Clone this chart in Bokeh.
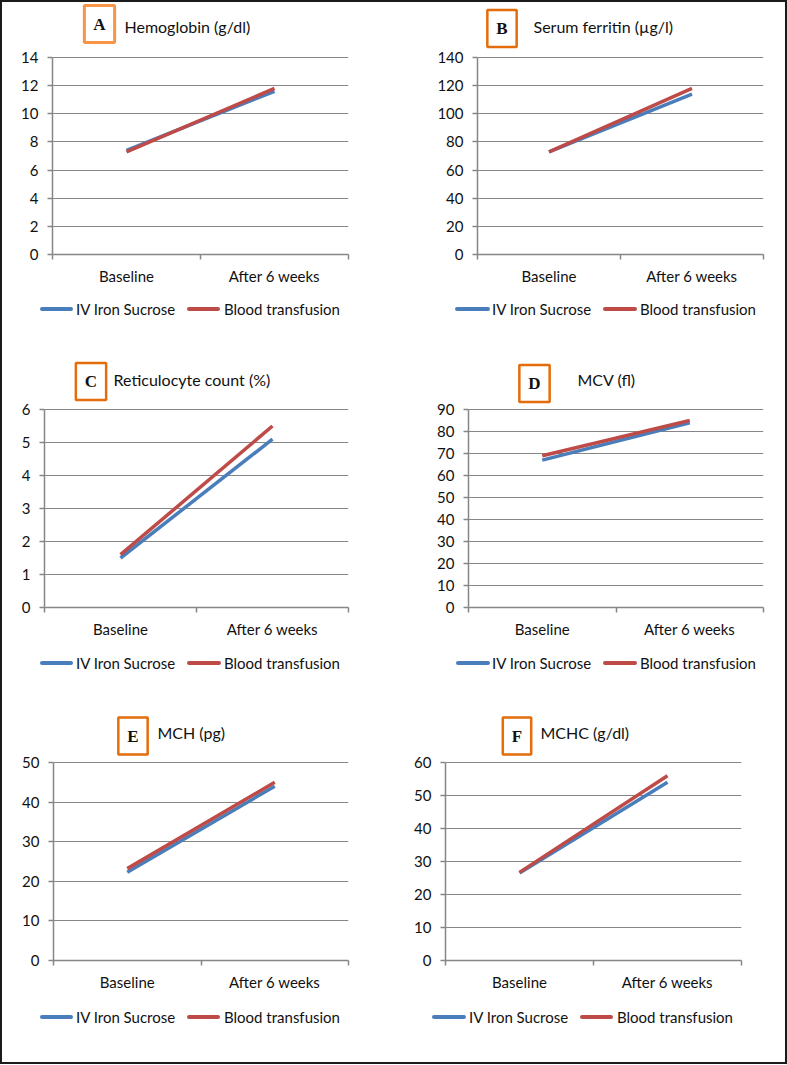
from bokeh.plotting import figure
from bokeh.models import Range1d, FixedTicker, Label, Div
from bokeh.layouts import column, row
from bokeh.embed import file_html
from bokeh.resources import INLINE

# ---------------- data ----------------
categories = ["Baseline", "After 6 weeks"]
series_names = ["IV Iron Sucrose", "Blood transfusion"]

hb_iv = [7.4, 11.6]
hb_bt = [7.3, 11.8]
fer_iv = [73, 114]
fer_bt = [73, 118]
ret_iv = [1.5, 5.1]
ret_bt = [1.6, 5.5]
mcv_iv = [67, 84]
mcv_bt = [69, 85]
mch_iv = [22.3, 44]
mch_bt = [23.2, 45]
mchc_iv = [26.5, 54]
mchc_bt = [26.7, 56]

letters = ["A", "B", "C", "D", "E", "F"]
titles = ["Hemoglobin (g/dl)", "Serum ferritin (\u00b5g/l)", "Reticulocyte count (%)",
          "MCV (fl)", "MCH (pg)", "MCHC (g/dl)"]
y_max = [14, 140, 6, 90, 50, 60]
y_step = [2, 20, 1, 10, 10, 10]
iv_series = [hb_iv, fer_iv, ret_iv, mcv_iv, mch_iv, mchc_iv]
bt_series = [hb_bt, fer_bt, ret_bt, mcv_bt, mch_bt, mchc_bt]

# ---------------- layout (page pixel geometry) ----------------
col_x = [2, 392]
col_w = [390, 393]
row_y = [2, 330, 690]
row_h = [328, 360, 372]

# axis-area page coords (left, right, top(=ymax), bottom(=0))
frames = [(52, 348, 57, 254), (477, 763, 57, 254),
          (44, 348, 409, 607), (468, 763, 409, 607),
          (53, 348, 762, 960), (445, 741, 762, 960)]
boxes = [(99, 23.5), (501.5, 28), (90.5, 381), (534, 383), (132.5, 735.5), (516.5, 735.5)]
box_colors = ["#F79646", "#E46C0A", "#E46C0A", "#E46C0A", "#E46C0A", "#E46C0A"]
box_widths = [3, 2.5, 2.5, 2.5, 2.5, 2.5]
title_pos = [(124, 26), (533, 26), (113, 379), (577, 379), (157, 732), (540, 732)]
# legend: (swatch1 x0, swatch1 x1, text1 x, swatch2 x0, swatch2 x1, text2 x, centre y)
legend_pos = [(40, 73, 76, 187, 220, 224, 309), (455, 490, 492, 603, 637, 640, 309),
              (40, 73, 76, 187, 221, 224, 663), (456, 490, 492, 603, 637, 640, 663),
              (40, 73, 76, 187, 220, 224, 1017), (432, 466, 469, 580, 613, 617, 1017)]

BLUE = "#4A7EBB"
RED = "#BE4B48"
GRAY = "#868686"
FONT = "Lato"
AXIS_SPACE = 40


def legend_html(i, ox, top, w, hgt):
    s1a, s1b, t1, s2a, s2b, t2, cy = legend_pos[i]
    cy_local = cy - top
    parts = [f'<div style="position:relative;width:{w}px;height:{hgt}px;margin:0;'
             f'font-family:Lato;font-size:15px;color:#111111;">']
    for (a, b, t, col, name) in [(s1a, s1b, t1, BLUE, series_names[0]),
                                 (s2a, s2b, t2, RED, series_names[1])]:
        parts.append(f'<span style="position:absolute;left:{a - ox}px;top:{cy_local - 2}px;'
                     f'width:{b - a}px;height:4px;background:{col};border-radius:2px;"></span>')
        parts.append(f'<span style="position:absolute;left:{t - ox}px;top:{cy_local - 10}px;'
                     f'line-height:20px;white-space:nowrap;">{name}</span>')
    parts.append('</div>')
    return "".join(parts)


panels = []
for i in range(6):
    r, c = divmod(i, 2)
    ox, oy, w, h = col_x[c], row_y[r], col_w[c], row_h[r]
    fl, fr, ft, fb = frames[i]
    ymax = y_max[i]
    top_page = oy + 1
    main_h = fb + AXIS_SPACE - oy
    leg_h = h - main_h
    bl, br, bt, bb = fl - ox, (ox + w) - fr, top_page - oy, (oy + main_h) - fb
    fw = fr - fl
    y_end = ymax * (fb - top_page) / (fb - ft)

    p = figure(width=w, height=main_h, output_backend="svg", toolbar_location=None,
               x_range=Range1d(0, len(categories)), y_range=Range1d(0, y_end),
               min_border_left=bl, min_border_right=br, min_border_top=bt,
               min_border_bottom=bb, tools="")
    p.outline_line_color = None
    p.background_fill_color = "white"
    p.border_fill_color = "white"

    xs = [k + 0.5 for k in range(len(categories))]
    p.line(xs, iv_series[i], line_color=BLUE, line_width=3.5)
    p.line(xs, bt_series[i], line_color=RED, line_width=3.5)

    # x axis
    xa = p.xaxis[0]
    xa.ticker = FixedTicker(ticks=xs, minor_ticks=list(range(len(categories) + 1)))
    xa.major_label_overrides = {x: cat for x, cat in zip(xs, categories)}
    xa.major_tick_line_color = None
    xa.major_tick_out = 0
    xa.major_tick_in = 0
    xa.minor_tick_line_color = GRAY
    xa.minor_tick_line_width = 1.5
    xa.minor_tick_out = 5
    xa.minor_tick_in = 0
    xa.axis_line_color = GRAY
    xa.axis_line_width = 1.5
    xa.major_label_standoff = 7
    xa.major_label_text_font = FONT
    xa.major_label_text_font_size = "15px"
    xa.major_label_text_color = "#111111"

    # y axis
    ya = p.yaxis[0]
    ya.ticker = FixedTicker(ticks=list(range(0, ymax + 1, y_step[i])), minor_ticks=[])
    ya.bounds = (0, ymax)
    ya.axis_line_color = GRAY
    ya.axis_line_width = 1.5
    ya.major_tick_line_color = GRAY
    ya.major_tick_line_width = 1.5
    ya.major_tick_out = 5
    ya.major_tick_in = 0
    ya.minor_tick_line_color = None
    ya.major_label_standoff = 9
    ya.major_label_text_font = FONT
    ya.major_label_text_font_size = "15px"
    ya.major_label_text_color = "#111111"

    p.xgrid.grid_line_color = None
    p.ygrid.grid_line_color = GRAY
    p.ygrid.grid_line_width = 1.2
    p.ygrid.ticker = ya.ticker

    def to_x(px):
        return (px - fl) / fw * len(categories)

    def to_y(py):
        return ymax + (ft - py) / (fb - ft) * ymax

    bx, by = boxes[i]
    p.add_layout(Label(x=to_x(bx), y=to_y(by), text=letters[i], text_align="center",
                       text_baseline="middle", text_font="Liberation Serif",
                       text_font_style="bold", text_font_size="17px", text_color="#111111",
                       border_line_color=box_colors[i], border_line_width=box_widths[i],
                       background_fill_color="white", padding=9))
    tx, ty = title_pos[i]
    p.add_layout(Label(x=to_x(tx), y=to_y(ty), text=titles[i], text_align="left",
                       text_baseline="middle", text_font=FONT, text_font_size="16px",
                       text_color="#111111"))

    leg = Div(text=legend_html(i, ox, oy + main_h, w, leg_h), width=w, height=leg_h,
              margin=0, styles={"padding": "0", "margin": "0"})
    panels.append(column(p, leg, spacing=0))

layout = column(row(panels[0], panels[1], spacing=0),
                row(panels[2], panels[3], spacing=0),
                row(panels[4], panels[5], spacing=0),
                spacing=0, styles={"border": "2px solid #1a1a1a"})

open("out.html", "w").write(file_html(layout, INLINE))
